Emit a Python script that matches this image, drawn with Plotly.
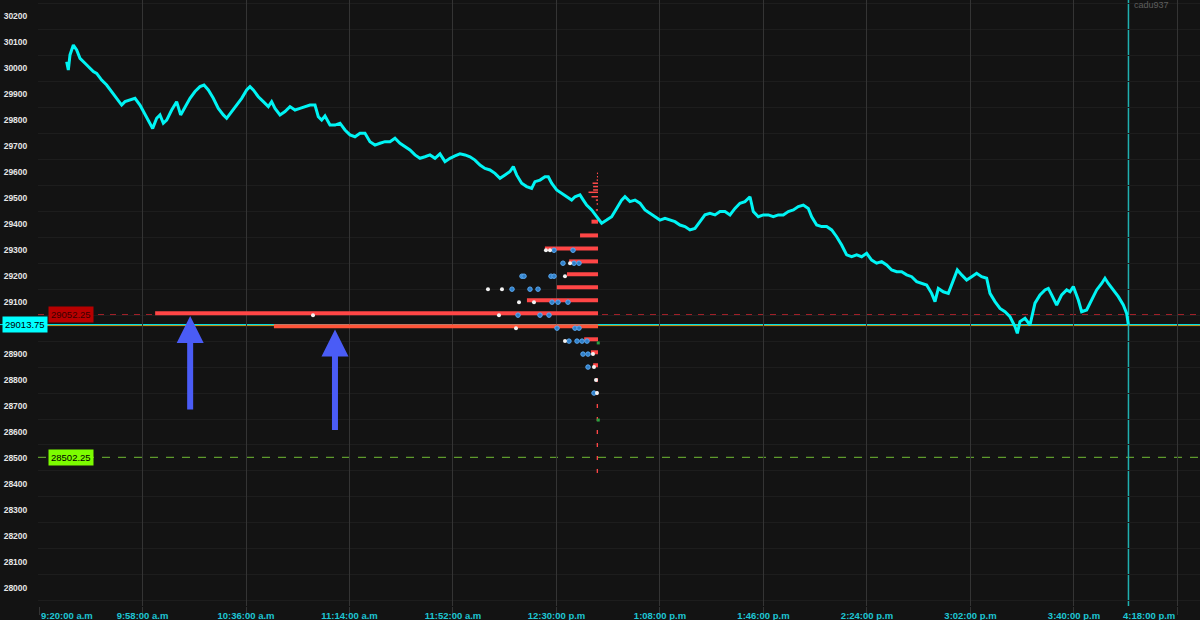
import pandas as pd
import plotly.graph_objects as go

DAY = "2023-03-10"
OPEN = pd.Timestamp(f"{DAY} 09:30:00")

# ---------------- price series (minutes after 9:30 open, price) ----------------
minutes_after_open = [
    0.16, 0.77, 1.38, 2.61, 3.83, 5.05, 6.89, 8.72, 9.95, 11.17, 13.01, 14.84, 16.68, 18.51,
    20.35, 21.57, 23.41, 25.25, 27.08, 28.92, 30.75, 31.73, 33.2, 34.42, 35.65, 36.87, 38.71,
    40.54, 42.01, 43.6, 45.44, 47.27, 49.11, 50.58, 52.17, 54.0, 55.84, 57.68, 58.9, 60.74,
    62.57, 64.41, 66.24, 67.47, 68.69, 70.53, 72.36, 74.2, 75.42, 76.65, 78.48, 80.32, 82.15,
    83.99, 85.82, 87.66, 89.5, 91.33, 92.55, 93.78, 95.0, 96.84, 98.67, 100.51, 102.34, 104.18,
    106.02, 107.85, 109.69, 111.52, 113.36, 115.19, 117.03, 118.87, 120.7, 122.54, 124.37,
    126.21, 128.04, 129.88, 131.72, 133.55,
    135.39, 137.22, 139.06, 140.89, 142.73, 144.57, 146.4, 148.24, 150.07, 151.91, 153.74,
    155.58, 157.42, 159.25, 161.09, 162.92, 164.15, 165.37, 167.21, 169.04, 170.88, 172.1,
    173.94, 175.77, 177.0, 178.22, 180.06, 181.89, 183.73, 185.56, 186.79, 188.62, 189.85,
    191.07, 192.91, 194.74, 196.58, 198.41, 200.25, 202.08, 203.92, 205.14, 206.98, 208.82,
    210.65, 212.49, 214.32, 216.16, 217.99, 219.83, 221.66, 223.5, 225.34, 227.17, 229.01,
    230.84, 232.68, 234.51, 236.35, 238.19, 240.02, 241.86, 243.69, 245.53, 247.36, 249.2,
    251.04, 252.26, 254.1, 255.93, 257.77, 259.6, 261.44, 263.27, 265.11,
    266.96, 268.79, 270.63, 272.46, 273.69, 275.52, 277.36, 279.19, 281.03, 282.86, 284.7,
    286.54, 288.37, 290.21, 292.04, 293.88, 295.71, 297.55, 299.39, 301.22, 303.06, 304.89,
    306.73, 308.56, 310.4, 312.24, 314.07, 315.91, 317.74, 318.97, 320.19, 322.03, 323.86,
    325.7, 327.17, 328.76, 330.59, 332.43, 334.26, 336.1, 337.94, 339.16, 340.99, 342.83,
    344.67, 346.5, 348.34, 349.2, 350.17, 352.01, 353.85, 355.68, 357.52, 359.35, 360.58,
    361.8, 363.64, 365.47, 367.31, 368.53, 369.76, 371.59, 372.81, 374.65, 376.49, 378.32,
    380.16, 381.38, 382.6, 384.44, 386.28, 388.11, 389.34, 389.95,
]
prices = [
    30026, 29994, 30052, 30090, 30071, 30039, 30020, 30000, 29988, 29981, 29955, 29936, 29911, 29885,
    29859, 29872, 29878, 29885, 29859, 29821, 29789, 29769, 29808, 29821, 29789, 29801, 29840,
    29872, 29821, 29853, 29885, 29911, 29930, 29936, 29917, 29885, 29846, 29821, 29808, 29834,
    29859, 29885, 29917, 29930, 29917, 29891, 29872, 29853, 29872, 29846, 29821, 29834, 29853,
    29840, 29846, 29853, 29859, 29859, 29814, 29801, 29817, 29782, 29782, 29789, 29763, 29744,
    29737, 29750, 29750, 29718, 29705, 29712, 29718, 29718, 29731, 29712, 29699,
    29686, 29667, 29654, 29660, 29667,
    29654, 29671, 29641, 29654, 29663, 29671, 29667, 29660, 29647, 29628, 29615,
    29609, 29596, 29577, 29590, 29603, 29622, 29590, 29558, 29545, 29538, 29564,
    29570, 29583, 29583, 29558, 29532, 29519, 29506, 29493, 29506, 29513, 29493,
    29474, 29455, 29429, 29404, 29416, 29429, 29461, 29493, 29506, 29487, 29493,
    29481, 29455, 29442, 29429, 29416, 29423, 29416, 29410, 29397, 29391, 29378,
    29384, 29410, 29436, 29442, 29436, 29449, 29449, 29436, 29461, 29481, 29487,
    29506, 29449, 29429, 29436, 29436, 29429, 29436, 29436, 29449,
    29455, 29468, 29474, 29461, 29429, 29397, 29391, 29391, 29378, 29352, 29320,
    29282, 29275, 29282, 29275, 29288, 29262, 29250, 29256, 29243, 29224, 29217,
    29217, 29205, 29198, 29179, 29172, 29166, 29134, 29102, 29153, 29140, 29134,
    29185, 29224, 29205, 29185, 29198, 29211, 29198, 29192, 29134, 29102, 29076,
    29063, 29044, 29006, 28980, 29025, 29038, 29012, 29096, 29128, 29147, 29153,
    29128, 29089, 29128, 29147, 29140, 29160, 29108, 29063, 29070, 29108, 29147,
    29172, 29192, 29172, 29147, 29121, 29089, 29057, 29013.75,
]

# ---------------- axis ticks ----------------
tick_times = ["09:20", "09:58", "10:36", "11:14", "11:52", "12:30",
              "13:08", "13:46", "14:24", "15:02", "15:40", "16:18"]
tick_labels = ["9:20:00 a.m", "9:58:00 a.m", "10:36:00 a.m", "11:14:00 a.m", "11:52:00 a.m",
               "12:30:00 p.m", "1:08:00 p.m", "1:46:00 p.m", "2:24:00 p.m", "3:02:00 p.m",
               "3:40:00 p.m", "4:18:00 p.m"]
y_tick_values = [28000, 28100, 28200, 28300, 28400, 28500, 28600, 28700, 28800, 28900, 29000,
                 29100, 29200, 29300, 29400, 29500, 29600, 29700, 29800, 29900, 30000, 30100, 30200]
y_grid_values = [27950, 28050, 28150, 28250, 28350, 28450, 28550, 28650, 28750, 28850, 28950,
                 29050, 29150, 29250, 29350, 29450, 29550, 29650, 29750, 29850, 29950, 30050,
                 30150, 30250]

# ---------------- volume profile (bars end at profile_end, length in minutes) ----------------
profile_end = "12:45:15"
profile_levels = [29410, 29357, 29307, 29257, 29207, 29157, 29107, 29057, 28957, 28907,
                  28857, 28800, 28750, 28700, 28650, 28600, 28550, 28500, 28450]
profile_lengths = [2.4, 6.6, 19.5, 10.6, 11.4, 15.1, 26.1, 162.6, 5.1, 2.6,
                   1.8, 0.7, 0.7, 0.5, 0.5, 0.5, 0.5, 0.5, 0.5]
profile_orange_level = [29007]
profile_orange_length = [119.0]
profile_upper_levels = [29596, 29583, 29570, 29558, 29545, 29532, 29523, 29506, 29493, 29478, 29455, 29429]
profile_upper_lengths = [0.4, 0.4, 0.5, 2.0, 1.8, 1.8, 3.5, 2.4, 0.8, 0.5, 0.8, 0.8]

white_dot_times = ["12:26:08", "12:27:37", "12:34:58", "12:33:07", "12:04:51", "12:09:59",
                   "12:16:14", "12:21:44", "12:08:53", "11:00:36", "12:15:08", "12:33:07",
                   "12:43:24", "12:43:46", "12:44:30", "12:44:52"]
white_dot_prices = [29300, 29300, 29250, 29200, 29150, 29150, 29100, 29100, 29050, 29050,
                    29000, 28950, 28900, 28850, 28800, 28750]
blue_dot_times = ["12:29:05", "12:36:04", "12:32:23", "12:36:26", "12:38:16", "12:17:20",
                  "12:18:04", "12:27:59", "12:29:05", "12:13:40", "12:20:16", "12:23:13",
                  "12:28:21", "12:30:33", "12:34:13", "12:15:52", "12:23:56", "12:27:15",
                  "12:30:11", "12:36:47", "12:38:16", "12:34:35", "12:37:32", "12:39:22",
                  "12:41:12", "12:39:44", "12:41:34", "12:41:34", "12:43:46"]
blue_dot_prices = [29300, 29300, 29250, 29250, 29250, 29200, 29200, 29200, 29200, 29150,
                   29150, 29150, 29100, 29100, 29100, 29050, 29050, 29050, 29000, 29000,
                   29000, 28950, 28950, 28950, 28950, 28900, 28900, 28850, 28750]
green_mark_times = ["12:45:20", "12:45:20"]
green_mark_prices = [28943, 28646]

# ---------------- reference levels ----------------
red_level = 29052.25
last_price = 29013.75
green_level = 28502.25
session_close = "16:00:00"

# ---------------- helpers ----------------
def ts(hms):
    return pd.Timestamp(f"{DAY} {hms}")

times = [OPEN + pd.Timedelta(minutes=m) for m in minutes_after_open]
end_ts = ts(profile_end)


def segments(levels, lengths):
    xs, ys = [], []
    for lvl, ln in zip(levels, lengths):
        xs += [end_ts - pd.Timedelta(minutes=ln), end_ts, None]
        ys += [lvl, lvl, None]
    return xs, ys


BG = "#131313"
FONT = "Liberation Sans, Arial"
XFONT = dict(family=FONT, size=9.5, color="#1ec6d4", weight="bold")
fig = go.Figure()

px_, py_ = segments(profile_upper_levels, profile_upper_lengths)
fig.add_trace(go.Scatter(x=px_, y=py_, mode="lines", line=dict(color="#ff4a4a", width=1.5),
                         hoverinfo="skip", showlegend=False))
px_, py_ = segments(profile_levels, profile_lengths)
fig.add_trace(go.Scatter(x=px_, y=py_, mode="lines", line=dict(color="#ff4646", width=4),
                         hoverinfo="skip", showlegend=False))
px_, py_ = segments(profile_orange_level, profile_orange_length)
fig.add_trace(go.Scatter(x=px_, y=py_, mode="lines", line=dict(color="#ff5438", width=4),
                         hoverinfo="skip", showlegend=False))

fig.add_trace(go.Scatter(x=[ts(t) for t in blue_dot_times], y=blue_dot_prices, mode="markers",
                         marker=dict(color="#2f7fc8", size=4.5, line=dict(color="#5aa8f0", width=1)),
                         hoverinfo="skip", showlegend=False))
fig.add_trace(go.Scatter(x=[ts(t) for t in white_dot_times], y=white_dot_prices, mode="markers",
                         marker=dict(color="#f2f2f2", size=4),
                         hoverinfo="skip", showlegend=False))
fig.add_trace(go.Scatter(x=[ts(t) for t in green_mark_times], y=green_mark_prices, mode="markers",
                         marker=dict(color="#2aa040", size=3, symbol="square"),
                         hoverinfo="skip", showlegend=False))

fig.add_trace(go.Scatter(x=times, y=prices, mode="lines",
                         line=dict(color="#00f4f4", width=3),
                         hoverinfo="skip", showlegend=False))

# horizontal reference lines & session close line
fig.add_shape(type="line", xref="paper", x0=0, x1=1, y0=red_level, y1=red_level,
              line=dict(color="#a8222a", width=1, dash="6px,6px"), layer="below")
fig.add_shape(type="line", xref="paper", x0=0, x1=1, y0=green_level, y1=green_level,
              line=dict(color="#5e9a2c", width=1.3, dash="8px,8px"), layer="below")
fig.add_shape(type="line", xref="paper", x0=-0.04, x1=1, y0=last_price, y1=last_price,
              line=dict(color="#00e8f0", width=1), layer="below")
fig.add_shape(type="line", xref="paper", x0=0, x1=1, y0=last_price - 4, y1=last_price - 4,
              line=dict(color="#c8a020", width=1), layer="below")
fig.add_shape(type="line", yref="paper", x0=ts(session_close), x1=ts(session_close), y0=0, y1=1,
              line=dict(color="#1fb0b0", width=1.5), layer="below")

# price tags
fig.add_annotation(xref="paper", x=-0.031, xanchor="left", y=last_price, yref="y",
                   text="29013.75", showarrow=False, bgcolor="#00ffff",
                   font=dict(family=FONT, size=9.5, color="#000000"), borderpad=2)
fig.add_annotation(xref="paper", x=0.0086, xanchor="left", y=red_level, yref="y",
                   text="29052.25", showarrow=False, bgcolor="#b80000",
                   font=dict(family=FONT, size=9.5, color="#3a0000"), borderpad=2)
fig.add_annotation(xref="paper", x=0.0086, xanchor="left", y=green_level, yref="y",
                   text="28502.25", showarrow=False, bgcolor="#7cfc00",
                   font=dict(family=FONT, size=9.5, color="#000000"), borderpad=2)

# blue arrows
fig.add_annotation(x=ts("10:15:30"), y=29047, ax=0, ay=95, text="", showarrow=True,
                   arrowhead=2, arrowsize=0.9, arrowwidth=6, arrowcolor="#4a5cf6")
fig.add_annotation(x=ts("11:08:40"), y=28995, ax=0, ay=102, text="", showarrow=True,
                   arrowhead=2, arrowsize=0.9, arrowwidth=6, arrowcolor="#4a5cf6")

# first and last x labels are kept inside the chart (left / right aligned)
fig.add_annotation(x=ts(tick_times[0] + ":00"), xanchor="left", yref="paper", y=0,
                   yanchor="top", yshift=-2, text=tick_labels[0], showarrow=False, font=XFONT)
fig.add_annotation(x=ts(tick_times[-1] + ":00"), xanchor="right", yref="paper", y=0,
                   yanchor="top", yshift=-2, text=tick_labels[-1], showarrow=False, font=XFONT)

# watermark at the top right
fig.add_annotation(xref="paper", x=0.975, yref="paper", y=1, yanchor="top", yshift=2,
                   text="cadu937", showarrow=False,
                   font=dict(family=FONT, size=9, color="#5e5e5e"))

y_text = ["" if v == 29000 else str(v) for v in y_tick_values]

fig.update_layout(
    width=1200, height=620,
    margin=dict(l=38, r=0, t=0, b=14),
    paper_bgcolor=BG, plot_bgcolor=BG,
    showlegend=False,
    xaxis=dict(
        type="date",
        range=[ts("09:19:38"), ts("16:26:16")],
        tickmode="array",
        tickvals=[ts(t + ":00") for t in tick_times],
        ticktext=[""] + tick_labels[1:-1] + [""],
        showgrid=True, gridcolor="#343434", gridwidth=1,
        ticks="outside", ticklen=8, tickcolor="#343434",
        ticklabelstandoff=-7,
        ticklabeloverflow="allow",
        tickfont=XFONT,
        zeroline=False, showline=False, automargin=False,
    ),
    yaxis=dict(
        range=[27930, 30263.5],
        tickmode="array", tickvals=y_tick_values,
        ticktext=y_text,
        showgrid=False,
        minor=dict(tickmode="array", tickvals=y_grid_values, showgrid=True,
                   gridcolor="#1d1d1d", gridwidth=1, ticks=""),
        ticks="outside", ticklen=8, tickcolor=BG,
        tickfont=dict(family=FONT, size=8.5, color="#e6e6e6", weight="bold"),
        zeroline=False, showline=False, automargin=False,
    ),
)

fig.write_html(
    "out.html",
    config={"displayModeBar": False},
    post_script="document.body.style.margin='0';document.body.style.background='#131313';",
)
